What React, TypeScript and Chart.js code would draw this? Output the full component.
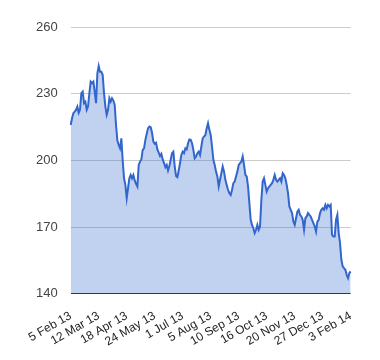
import React, { useEffect, useRef } from "react";
import { Chart, registerables } from "chart.js";

Chart.register(...registerables);

const tickLabels = [
  "5 Feb 13", "12 Mar 13", "18 Apr 13", "24 May 13", "1 Jul 13", "5 Aug 13",
  "10 Sep 13", "16 Oct 13", "20 Nov 13", "27 Dec 13", "3 Feb 14",
];

const yTicks = [140, 170, 200, 230, 260];

const valuesFebApr = [
  216, 219, 221.3, 222, 222.8, 224.3, 221.5, 223, 230.3, 231, 225.8, 226.5, 222.8, 224.3, 230.3,
  235.5, 234.8, 235.5, 231, 225.8, 239.3, 242.6, 240, 240, 238.5, 230.3, 224.3, 220.6, 222.8, 228,
  226.5, 228, 227, 225, 216, 209, 207, 205.5, 210, 200, 192, 189, 183, 187.5, 192,
  193.5, 192, 193.5, 191, 189.5, 188.3, 198, 199.5, 200.5, 204.8, 205.5, 209.3, 212, 214.5, 215.3,
];
const valuesMayAug = [
  215, 212.5, 208.5, 207.5, 208, 205, 203.5, 202, 203, 200.5, 198.8, 197, 198, 195.5, 197.5,
  200.3, 203.3, 204, 197.3, 193, 192.5, 195.5, 198.8, 202.5, 204, 203.3, 205.5, 205, 207.8, 209.5,
  209.3, 207.8, 204.8, 201, 201.8, 203.3, 204, 202.5, 206.3, 210, 210.8, 211.5, 214.5, 216.8, 213.8,
  211.5, 206.3, 200.3, 198, 195, 192.8, 188.3, 191.3, 194.3, 197.3, 195, 191.3, 189, 186.8, 185.3,
];
const valuesSepNov = [
  184.5, 186.8, 189.8, 190.5, 192.8, 195, 198, 198.8, 199.5, 201.8, 198, 193.5, 192.8, 188.3, 180.8,
  173.3, 171, 169.5, 167.3, 168.8, 171, 168.8, 170.3, 182.3, 190.5, 192, 189, 186, 187.5, 188.3,
  189, 189.8, 191.3, 193.5, 191.3, 190.5, 191.3, 192, 190.5, 194.3, 193.5, 192, 189, 185.3, 179.3,
  177.8, 176.3, 172.5, 171, 174, 177, 177.8, 175.5, 174.8, 173.3, 168.8, 174, 174.8, 176.3, 175.5,
];
const valuesDecFeb = [
  174.8, 173.3, 171.8, 170.3, 168, 172.5, 173.3, 176.3, 177.8, 178.5, 177.8, 180, 178.5, 180, 179.3,
  180, 166.5, 165.8, 165.8, 173.3, 175.5, 167.3, 162.8, 155.3, 152.3, 151.5, 150.8, 148.5, 147, 149.3, 150,
];

const values = [...valuesFebApr, ...valuesMayAug, ...valuesSepNov, ...valuesDecFeb];
const labelEvery = (values.length - 1) / (tickLabels.length - 1);

export default function App() {
  const ref = useRef<HTMLCanvasElement | null>(null);

  useEffect(() => {
    if (!ref.current) return;
    const family = "'Liberation Sans', Arial, sans-serif";
    const chart = new Chart(ref.current, {
      type: "line",
      data: {
        labels: values.map((_, i) => i),
        datasets: [
          {
            data: values,
            borderColor: "#3366cc",
            backgroundColor: "rgba(51,102,204,0.3)",
            borderWidth: 2,
            pointRadius: 0,
            fill: "start",
            tension: 0,
          },
        ],
      },
      options: {
        animation: false,
        responsive: false,
        devicePixelRatio: 1,
        layout: { padding: { top: 27.3, right: 29.3, left: 0, bottom: 0 } },
        plugins: { legend: { display: false }, tooltip: { enabled: false } },
        scales: {
          x: {
            type: "category",
            offset: false,
            grid: { display: false },
            border: { display: false },
            ticks: {
              autoSkip: false,
              minRotation: 30,
              maxRotation: 30,
              padding: 7,
              color: "#222",
              font: { family, size: 12 },
              callback: (_v: any, i: number) =>
                i % labelEvery === 0 ? tickLabels[i / labelEvery] : null,
            },
            afterFit: (s: any) => {
              s.height = 66.3;
            },
          },
          y: {
            min: 140,
            max: 260,
            afterBuildTicks: (s: any) => {
              s.ticks = yTicks.map((v) => ({ value: v }));
            },
            grid: {
              drawTicks: false,
              color: (c: any) => (c.tick && c.tick.value === 140 ? "#333" : "#ccc"),
            },
            border: { display: false },
            ticks: { padding: 13, color: "#444", font: { family, size: 13 } },
            afterFit: (s: any) => {
              s.width = 70.7;
            },
          },
        },
      },
    });
    return () => chart.destroy();
  }, []);

  return (
    <div style={{ position: "fixed", left: 0, top: 0, width: 380, height: 360, background: "#fff" }}>
      <canvas ref={ref} width={380} height={360} />
    </div>
  );
}
